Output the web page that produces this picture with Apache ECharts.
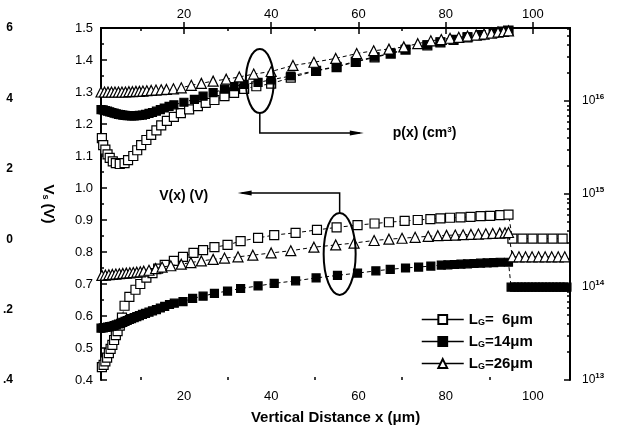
<!DOCTYPE html>
<html>
<head>
<meta charset="utf-8">
<script src="https://cdn.jsdelivr.net/npm/echarts@6/dist/echarts.min.js"></script>
<style>html,body{margin:0;padding:0;background:#fff}#main{width:617px;height:434px}</style>
</head>
<body>
<div id="main"></div>
<script>
// tick labels
var xTicks = [20, 40, 60, 80, 100];
var xMinor = [10, 30, 50, 70, 90];
var pDecades = [13, 14, 15, 16];
var farLeftLabels = ['6', '4', '2', '0', '.2', '.4'];

// L_G = 6um, open squares : V(x) (lower) and p(x) (upper)
var sq6Low = [[1.2,0.44],[1.6,0.447],[2.0,0.458],[2.4,0.47],[2.8,0.484],[3.2,0.497],[3.6,0.51],[4.0,0.525],[4.4,0.54],[4.8,0.553],[5.3,0.57],[5.8,0.595],[6.4,0.632],[7.5,0.66],[8.9,0.682],[10.0,0.70],[11.4,0.72],[12.8,0.734],[14.1,0.748],[15.6,0.76],[17.7,0.772],[19.8,0.785],[22.2,0.797],[24.4,0.806],[27.0,0.815],[30.0,0.822],[33.0,0.834],[37.0,0.844],[40.7,0.853],[45.6,0.86],[50.5,0.869],[55.0,0.877],[59.8,0.884],[63.7,0.889],[67.0,0.893],[70.6,0.897],[73.6,0.90],[76.5,0.903],[78.8,0.905],[81.0,0.907],[83.4,0.908],[85.7,0.91],[88.0,0.912],[90.2,0.913],[92.5,0.915],[94.4,0.917],[95.3,0.842],[97.6,0.842],[99.9,0.842],[102.2,0.842],[104.5,0.842],[106.8,0.842]];
var sq6Up = [[1.2,1.156],[1.5,1.134],[2.0,1.12],[2.5,1.105],[3.0,1.094],[3.7,1.083],[4.4,1.078],[5.3,1.075],[6.4,1.078],[7.2,1.087],[8.4,1.10],[9.3,1.118],[10.2,1.134],[11.4,1.15],[12.5,1.166],[13.7,1.18],[14.8,1.196],[16.1,1.21],[17.7,1.222],[19.3,1.234],[21.2,1.246],[23.2,1.256],[25.0,1.266],[27.0,1.275],[29.3,1.287],[31.5,1.297],[33.8,1.31],[36.6,1.318],[40.0,1.326],[44.5,1.345],[50.3,1.366],[55.0,1.378],[59.4,1.394],[63.7,1.408],[67.4,1.42],[70.8,1.432],[75.8,1.446],[78.8,1.455],[81.8,1.463],[85.0,1.471],[88.0,1.478],[91.0,1.485],[93.0,1.489],[94.4,1.492]];

// L_G = 14um, filled squares
var sq14Low = [[1.0,0.562],[1.5,0.563],[2.0,0.564],[2.5,0.565],[3.0,0.567],[3.5,0.568],[4.0,0.57],[4.5,0.572],[5.0,0.575],[5.5,0.577],[6.0,0.58],[6.5,0.583],[7.0,0.586],[7.5,0.589],[8.0,0.592],[8.6,0.595],[9.2,0.598],[9.8,0.601],[10.5,0.605],[11.2,0.608],[12.0,0.612],[12.8,0.616],[13.7,0.62],[14.6,0.625],[15.6,0.63],[16.7,0.636],[17.8,0.64],[19.8,0.645],[22.0,0.655],[24.4,0.662],[27.0,0.671],[30.0,0.678],[33.0,0.686],[37.0,0.694],[40.7,0.702],[45.6,0.71],[50.3,0.719],[55.2,0.727],[59.8,0.734],[64.0,0.741],[67.3,0.746],[70.8,0.75],[73.8,0.753],[76.6,0.756],[79.0,0.759],[80.5,0.76],[82.0,0.761],[83.5,0.762],[85.0,0.763],[86.5,0.764],[88.0,0.765],[89.5,0.766],[91.0,0.767],[92.5,0.768],[94.4,0.768],[95.0,0.69],[95.8,0.69],[96.6,0.69],[97.4,0.69],[98.2,0.69],[99.0,0.69],[99.8,0.69],[100.6,0.69],[101.4,0.69],[102.2,0.69],[103.0,0.69],[103.8,0.69],[104.6,0.69],[105.4,0.69],[106.2,0.69],[107.0,0.69],[107.8,0.69]];
var sq14Up = [[1.0,1.245],[1.5,1.244],[2.0,1.242],[2.5,1.24],[3.0,1.238],[3.5,1.236],[4.0,1.234],[4.5,1.232],[5.0,1.23],[5.5,1.229],[6.0,1.228],[6.5,1.227],[7.0,1.226],[7.5,1.226],[8.0,1.225],[8.6,1.225],[9.2,1.226],[9.8,1.227],[10.5,1.228],[11.2,1.23],[12.0,1.233],[12.8,1.236],[13.7,1.24],[14.6,1.245],[15.5,1.25],[16.6,1.255],[17.7,1.26],[20.0,1.268],[22.4,1.277],[24.4,1.287],[26.7,1.298],[29.3,1.309],[31.5,1.317],[33.8,1.324],[37.0,1.33],[40.0,1.338],[44.5,1.35],[50.3,1.367],[55.0,1.38],[59.4,1.396],[63.7,1.41],[67.4,1.421],[70.8,1.433],[75.8,1.447],[78.8,1.456],[81.8,1.464],[85.0,1.472],[88.0,1.479],[91.0,1.486],[93.0,1.489],[94.4,1.492]];

// L_G = 26um, open triangles
var tri26Low = [[1.2,0.727],[2.0,0.728],[2.8,0.729],[3.6,0.73],[4.4,0.731],[5.2,0.732],[6.0,0.733],[6.8,0.734],[7.6,0.735],[8.4,0.736],[9.2,0.737],[10.0,0.738],[10.8,0.74],[12.0,0.743],[13.5,0.748],[15.0,0.753],[17.0,0.757],[19.4,0.762],[21.6,0.767],[24.0,0.772],[26.7,0.777],[29.3,0.781],[32.4,0.785],[35.8,0.79],[40.0,0.797],[44.5,0.804],[49.8,0.815],[54.8,0.822],[59.0,0.828],[63.6,0.836],[67.0,0.84],[70.0,0.843],[73.0,0.846],[76.0,0.849],[78.2,0.851],[80.2,0.852],[82.2,0.853],[84.0,0.854],[85.8,0.855],[87.5,0.856],[89.2,0.857],[90.8,0.858],[92.4,0.859],[93.6,0.86],[94.4,0.861],[95.3,0.785],[96.8,0.785],[98.3,0.785],[99.8,0.785],[101.3,0.785],[102.8,0.785],[104.3,0.785],[105.8,0.785],[107.3,0.785]];
var tri26Up = [[1.0,1.30],[1.8,1.30],[2.6,1.30],[3.4,1.30],[4.2,1.30],[5.0,1.30],[5.8,1.30],[6.6,1.30],[7.4,1.301],[8.2,1.301],[9.0,1.302],[9.8,1.302],[10.6,1.303],[11.5,1.304],[12.5,1.305],[13.6,1.306],[14.8,1.307],[16.0,1.308],[17.6,1.31],[19.4,1.313],[21.7,1.321],[24.0,1.327],[26.7,1.334],[29.7,1.34],[32.7,1.347],[36.0,1.356],[40.0,1.364],[45.0,1.383],[49.8,1.393],[54.8,1.405],[59.6,1.42],[63.5,1.429],[67.0,1.434],[70.4,1.441],[73.6,1.451],[76.6,1.46],[79.0,1.464],[81.0,1.468],[83.0,1.471],[85.0,1.475],[87.0,1.478],[88.8,1.481],[90.5,1.484],[92.0,1.487],[93.3,1.489],[94.4,1.491]];

var names = ['LG=  6\u03bcm', 'LG=14\u03bcm', 'LG=26\u03bcm'];

var FONT = 'Liberation Sans, Arial, sans-serif';

// log minor ticks on the p(x) axis
var pMax = 16.785;
var pMinor = [];
for (var d = 13; d <= 16; d++) {
  for (var k = 2; k <= 9; k++) {
    var v = d + Math.log10(k);
    if (v < pMax) pMinor.push(v);
  }
}

function mk(name, data, sym, filled, size, z) {
  return {
    name: name,
    type: 'line',
    data: data,
    symbol: sym,
    symbolSize: size,
    showSymbol: true,
    z: z,
    lineStyle: { color: '#000', width: 1, type: [4, 3] },
    itemStyle: { color: filled ? '#000' : '#fff', borderColor: '#000', borderWidth: 1.2 },
    emphasis: { disabled: true }
  };
}

var myChart = echarts.init(document.getElementById('main'));

var tickLab = { color: '#000', fontFamily: FONT, fontSize: 13 };

option = {
  animation: false,
  backgroundColor: '#fff',
  grid: { left: 100, right: 47, top: 28, bottom: 54 },
  legend: {
    data: names,
    orient: 'vertical',
    left: 416,
    top: 307,
    itemWidth: 42,
    itemHeight: 11,
    itemGap: 7,
    lineStyle: { type: 'solid', width: 1.5, color: '#000' },
    formatter: function (n) { return 'L{sub|G}' + n.slice(2); },
    textStyle: {
      color: '#000', fontFamily: FONT, fontSize: 15, fontWeight: 'bold',
      rich: { sub: { fontSize: 9, fontWeight: 'bold', fontFamily: FONT, verticalAlign: 'bottom', padding: [6, 0, 0, 0] } }
    }
  },
  xAxis: [
    {
      type: 'value', position: 'bottom', min: 1, max: 108.5,
      name: 'Vertical Distance x (\u03bcm)', nameLocation: 'middle', nameGap: 30,
      nameTextStyle: { color: '#000', fontFamily: FONT, fontSize: 15, fontWeight: 'bold' },
      axisLine: { lineStyle: { color: '#000', width: 2 } },
      axisTick: { inside: true, length: 6, customValues: xTicks, lineStyle: { color: '#000', width: 1.5 } },
      axisLabel: Object.assign({ customValues: xTicks, margin: 10 }, tickLab),
      splitLine: { show: false }
    },
    {
      type: 'value', position: 'top', min: 1, max: 108.5,
      axisLine: { lineStyle: { color: '#000', width: 2 } },
      axisTick: { inside: true, length: 6, customValues: xTicks, lineStyle: { color: '#000', width: 1.5 } },
      axisLabel: Object.assign({ customValues: xTicks, margin: 7 }, tickLab),
      splitLine: { show: false }
    },
    {
      type: 'value', position: 'bottom', min: 1, max: 108.5,
      axisLine: { show: false },
      axisTick: { inside: true, length: 3, customValues: xMinor, lineStyle: { color: '#000', width: 1.5 } },
      axisLabel: { show: false },
      splitLine: { show: false }
    },
    {
      type: 'value', position: 'top', min: 1, max: 108.5,
      axisLine: { show: false },
      axisTick: { inside: true, length: 3, customValues: xMinor, lineStyle: { color: '#000', width: 1.5 } },
      axisLabel: { show: false },
      splitLine: { show: false }
    }
  ],
  yAxis: [
    {
      type: 'value', position: 'left', min: 0.4, max: 1.5, interval: 0.1,
      name: 'V{sub|s} (V)', nameLocation: 'middle', nameGap: 45, nameRotate: -90,
      nameTextStyle: {
        color: '#000', fontFamily: FONT, fontSize: 15, fontWeight: 'bold',
        rich: { sub: { fontSize: 9, fontWeight: 'bold', fontFamily: FONT, verticalAlign: 'bottom', padding: [6, 0, 0, 0] } }
      },
      axisLine: { lineStyle: { color: '#000', width: 2 } },
      axisTick: { inside: true, length: 6, lineStyle: { color: '#000', width: 1.5 } },
      minorTick: { show: true, splitNumber: 2, length: 3, lineStyle: { color: '#000', width: 1.5 } },
      axisLabel: Object.assign({ margin: 8, formatter: function (v) { return v.toFixed(1); } }, tickLab),
      splitLine: { show: false }
    },
    {
      type: 'value', position: 'right', min: 13, max: pMax, interval: 1,
      axisLine: { lineStyle: { color: '#000', width: 2 } },
      axisTick: { inside: true, length: 6, lineStyle: { color: '#000', width: 1.5 } },
      axisLabel: {
        margin: 12, color: '#000', fontFamily: FONT, fontSize: 12,
        formatter: function (v) { return pDecades.indexOf(v) >= 0 ? '10{sup|' + v + '}' : ''; },
        rich: { sup: { fontSize: 8, fontFamily: FONT, fontWeight: 'bold', verticalAlign: 'top', padding: [0, 0, 8, 0] } }
      },
      splitLine: { show: false }
    },
    {
      type: 'value', position: 'right', min: 13, max: pMax,
      axisLine: { show: false },
      axisTick: { inside: true, length: 3, customValues: pMinor, lineStyle: { color: '#000', width: 1.5 } },
      axisLabel: { show: false },
      splitLine: { show: false }
    },
    {
      type: 'value', position: 'left', offset: 86, min: 0, max: 5, interval: 1, inverse: true,
      axisLine: { show: false },
      axisTick: { show: false },
      axisLabel: {
        margin: 2, color: '#000', fontFamily: FONT, fontSize: 12, fontWeight: 'bold',
        formatter: function (v) { return farLeftLabels[v] || ''; }
      },
      splitLine: { show: false }
    }
  ],
  series: [
    mk(names[0], sq6Low, 'rect', false, 9, 3),
    mk(names[0], sq6Up, 'rect', false, 9, 3),
    mk(names[1], sq14Low, 'rect', true, 8, 4),
    mk(names[1], sq14Up, 'rect', true, 8, 4),
    mk(names[2], tri26Low, 'triangle', false, 10, 5),
    mk(names[2], tri26Up, 'triangle', false, 10, 5)
  ]
};

myChart.setOption(option);

// annotations: ellipses marking the two groups of curves, with arrows to their axes
var e1 = myChart.convertToPixel({ xAxisIndex: 0, yAxisIndex: 0 }, [37.4, 1.334]);
var e2 = myChart.convertToPixel({ xAxisIndex: 0, yAxisIndex: 0 }, [55.7, 0.794]);
var ln = { stroke: '#000', lineWidth: 1.5, fill: null };

var g = [];
g.push({ type: 'ellipse', shape: { cx: e1[0], cy: e1[1], rx: 14, ry: 32 }, style: { stroke: '#000', lineWidth: 2, fill: null }, z: 20 });
g.push({ type: 'polyline', shape: { points: [[e1[0], e1[1] + 32], [e1[0], e1[1] + 52], [e1[0] + 100, e1[1] + 52]] }, style: ln, z: 20 });
g.push({ type: 'polygon', shape: { points: [[e1[0] + 104, e1[1] + 52], [e1[0] + 90, e1[1] + 49.5], [e1[0] + 90, e1[1] + 54.5]] }, style: { fill: '#000' }, z: 20 });
g.push({ type: 'text', x: e1[0] + 133, y: e1[1] + 52, style: { text: 'p(x) (cm{sup|3})', fill: '#000', font: 'bold 14px ' + FONT, verticalAlign: 'middle',
  rich: { sup: { fontSize: 8, fontWeight: 'bold', fontFamily: FONT, verticalAlign: 'top', padding: [0, 0, 7, 0] } } }, z: 20 });

g.push({ type: 'ellipse', shape: { cx: e2[0], cy: e2[1], rx: 16, ry: 41 }, style: { stroke: '#000', lineWidth: 2, fill: null }, z: 20 });
g.push({ type: 'polyline', shape: { points: [[e2[0], e2[1] - 41], [e2[0], e2[1] - 61], [e2[0] - 98, e2[1] - 61]] }, style: ln, z: 20 });
g.push({ type: 'polygon', shape: { points: [[e2[0] - 102, e2[1] - 61], [e2[0] - 88, e2[1] - 63.5], [e2[0] - 88, e2[1] - 58.5]] }, style: { fill: '#000' }, z: 20 });
g.push({ type: 'text', x: e2[0] - 156, y: e2[1] - 58, style: { text: 'V(x) (V)', fill: '#000', font: 'bold 14px ' + FONT, align: 'center', verticalAlign: 'middle' }, z: 20 });

myChart.setOption({ graphic: g });
</script>
</body>
</html>
